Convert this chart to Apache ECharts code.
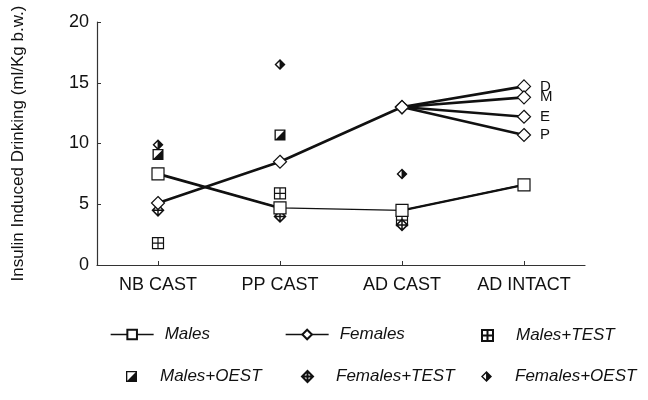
<!DOCTYPE html>
<html>
<head>
<meta charset="utf-8">
<script src="https://cdn.jsdelivr.net/npm/echarts@6/dist/echarts.min.js"></script>
<style>html,body{margin:0;padding:0;background:#fff;}#c{width:648px;height:400px;}</style>
</head>
<body>
<div id="c"></div>
<script>
const categories = ["NB CAST", "PP CAST", "AD CAST", "AD INTACT"];
const yTicks = { min: 0, max: 20, interval: 5 };
const males = [7.5, 4.7, 4.5, 6.6];
const females = [5.1, 8.5, 13.0];
const femalesIntact = [14.7, 13.8, 12.2, 10.7];
const intactLabels = ["D", "M", "E", "P"];
const malesTest = [1.8, 5.9, 3.7, null];
const malesOest = [9.1, 10.7, null, null];
const femalesTest = [4.5, 4.0, 3.3, null];
const femalesOest = [9.9, 16.5, 7.5, null];

const FONT = "Liberation Sans";
const BLACK = "#111";

const SYM_SQ_PLUS = "path://M0 0L10 0L10 10L0 10Z M5 0L5 10 M0 5L10 5";
const SYM_SQ_HALF = "path://M0 0L10 0L10 10L0 10Z M1.2 1.2L1.2 8.8L8.8 8.8L8.8 1.2Z M8.8 1.2L8.8 8.8L1.2 8.8Z";
const SYM_DI_PLUS = "path://M5 0L10 5L5 10L0 5Z M5 0L5 10 M0 5L10 5";
const SYM_DI_HALF = "path://M5 0L10 5L5 10L0 5Z M4.6 2.2L1.8 5L4.6 7.8Z";

const openItem = { color: "#fff", borderColor: BLACK, borderWidth: 1.2, opacity: 1 };

const series = [];
series.push({
  name: "Males", type: "line", data: males,
  symbol: "rect", symbolSize: 12, itemStyle: openItem,
  lineStyle: { color: BLACK, width: 1.4 }, z: 5
});
series.push({
  name: "Males", type: "line", data: [males[0], males[1], null, null],
  symbol: "none", lineStyle: { color: BLACK, width: 2.6 }, z: 3
});
series.push({
  name: "Males", type: "line", data: [null, null, males[2], males[3]],
  symbol: "none", lineStyle: { color: BLACK, width: 2.4 }, z: 3
});
const labelStyle = { show: false, position: "right", distance: 9, fontFamily: FONT, fontSize: 15, color: BLACK };
series.push({
  name: "Females", type: "line",
  data: [females[0], females[1], females[2],
    { value: femalesIntact[0], label: { show: true, formatter: intactLabels[0] } }],
  symbol: "diamond", symbolSize: 13, itemStyle: openItem,
  lineStyle: { color: BLACK, width: 2.6 }, z: 5, label: labelStyle
});
for (let i = 1; i < 4; i++) {
  series.push({
    name: "Females", type: "line",
    data: [null, null, females[2],
      { value: femalesIntact[i], label: { show: true, formatter: intactLabels[i] } }],
    symbol: "diamond", symbolSize: 13, itemStyle: openItem,
    lineStyle: { color: BLACK, width: 2.6 }, z: 5, label: labelStyle
  });
}
series.push({
  name: "Males+TEST", type: "scatter", data: malesTest,
  symbol: SYM_SQ_PLUS, symbolSize: 11, itemStyle: { color: "#fff", borderColor: BLACK, borderWidth: 1.2, opacity: 1 }, z: 4
});
series.push({
  name: "Males+OEST", type: "scatter", data: malesOest,
  symbol: SYM_SQ_HALF, symbolSize: 11, itemStyle: { color: BLACK, opacity: 1 }, z: 4
});
series.push({
  name: "Females+TEST", type: "scatter", data: femalesTest,
  symbol: SYM_DI_PLUS, symbolSize: 11, itemStyle: { color: "#fff", borderColor: BLACK, borderWidth: 1.5, opacity: 1 }, z: 4
});
series.push({
  name: "Females+OEST", type: "scatter", data: femalesOest,
  symbol: SYM_DI_HALF, symbolSize: 11, itemStyle: { color: BLACK, opacity: 1 }, z: 4
});

const legendText = { fontFamily: FONT, fontSize: 17, fontStyle: "italic", color: BLACK };
function lineLegend(name, left, top) {
  return {
    data: [name], left: left, top: top, itemWidth: 43, itemHeight: 12,
    lineStyle: { width: 1.3 }, selectedMode: false,
    textStyle: Object.assign({ padding: [0, 0, 0, 6] }, legendText)
  };
}
function dotLegend(name, left, top) {
  return {
    data: [name], left: left, top: top, itemWidth: 11, itemHeight: 11,
    selectedMode: false,
    textStyle: Object.assign({ padding: [0, 0, 0, 18] }, legendText)
  };
}

const option = {
  animation: false,
  backgroundColor: "#fff",
  grid: { left: 97, right: 63, top: 22, bottom: 135, containLabel: false },
  xAxis: {
    type: "category", data: categories, boundaryGap: true,
    axisLine: { lineStyle: { color: "#333", width: 1.2 } },
    axisTick: { show: true, inside: true, length: 4, alignWithLabel: true, lineStyle: { color: "#333" } },
    axisLabel: { fontFamily: FONT, fontSize: 18, color: BLACK, margin: 11 },
    splitLine: { show: false }
  },
  yAxis: {
    type: "value", min: yTicks.min, max: yTicks.max, interval: yTicks.interval,
    name: "Insulin Induced Drinking (ml/Kg b.w.)",
    nameLocation: "middle", nameGap: 70, nameRotate: 90,
    nameTextStyle: { fontFamily: FONT, fontSize: 17, color: BLACK },
    axisLine: { show: true, lineStyle: { color: "#333", width: 1.2 } },
    axisTick: { show: true, inside: true, length: 4, lineStyle: { color: "#333" } },
    axisLabel: { fontFamily: FONT, fontSize: 18, color: BLACK, margin: 8 },
    splitLine: { show: false }
  },
  legend: [
    lineLegend("Males", 105, 321),
    lineLegend("Females", 280, 321),
    dotLegend("Males+TEST", 476, 322),
    dotLegend("Males+OEST", 121, 363),
    dotLegend("Females+TEST", 296, 363),
    dotLegend("Females+OEST", 476, 363)
  ],
  series: series
};
const chart = echarts.init(document.getElementById("c"), null, { renderer: "canvas" });
chart.setOption(option);
</script>
</body>
</html>
